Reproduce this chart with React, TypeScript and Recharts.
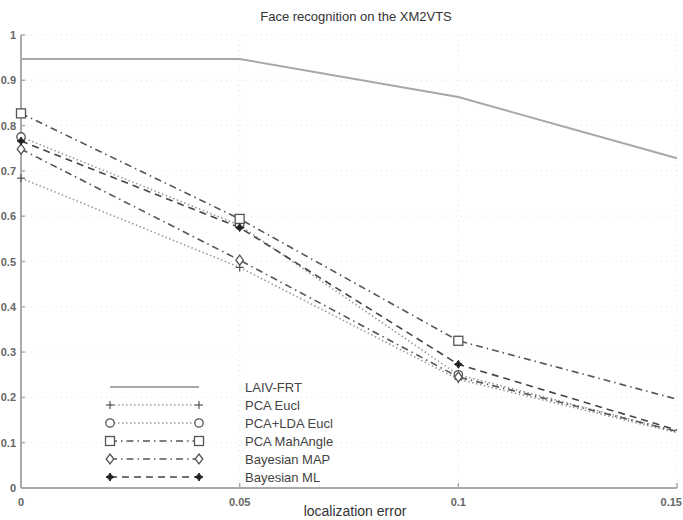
import { LineChart, Line, XAxis, YAxis, CartesianGrid } from "recharts";

// localization error
const errors = [0, 0.05, 0.1, 0.15];

// recognition rate per method
const laivFrt = [0.947, 0.947, 0.863, 0.728];
const pcaEucl = [0.684, 0.487, 0.24, 0.122];
const pcaLdaEucl = [0.775, 0.58, 0.25, 0.125];
const pcaMahAngle = [0.827, 0.594, 0.325, 0.196];
const bayesMap = [0.748, 0.503, 0.245, 0.125];
const bayesMl = [0.766, 0.575, 0.273, 0.128];

const xTicks = [0, 0.05, 0.1, 0.15];
const yTicks = [0, 0.1, 0.2, 0.3, 0.4, 0.5, 0.6, 0.7, 0.8, 0.9, 1];

const data = errors.map((e, i) => ({
  e,
  laiv: laivFrt[i],
  pcaE: pcaEucl[i],
  pcaL: pcaLdaEucl[i],
  pcaM: pcaMahAngle[i],
  bMap: bayesMap[i],
  bMl: bayesMl[i],
}));

type Mk = "none" | "plus" | "circle" | "square" | "diamond" | "star";

const series: { key: string; name: string; color: string; width: number; dash?: string; marker: Mk }[] = [
  { key: "laiv", name: "LAIV-FRT", color: "#a8a8a8", width: 2, marker: "none" },
  { key: "pcaE", name: "PCA Eucl", color: "#9a9a9a", width: 1.6, dash: "1.5 2.5", marker: "plus" },
  { key: "pcaL", name: "PCA+LDA Eucl", color: "#9a9a9a", width: 1.6, dash: "1.5 2.5", marker: "circle" },
  { key: "pcaM", name: "PCA MahAngle", color: "#555", width: 1.6, dash: "7 4 1.5 4", marker: "square" },
  { key: "bMap", name: "Bayesian MAP", color: "#555", width: 1.6, dash: "7 4 1.5 4", marker: "diamond" },
  { key: "bMl", name: "Bayesian ML", color: "#444", width: 1.6, dash: "7 5", marker: "star" },
];

function Marker({ cx, cy, type }: { cx: number; cy: number; type: Mk }) {
  const s = "#555";
  if (type === "plus")
    return (
      <g stroke={s} strokeWidth={1.2}>
        <line x1={cx - 4} y1={cy} x2={cx + 4} y2={cy} />
        <line x1={cx} y1={cy - 4} x2={cx} y2={cy + 4} />
      </g>
    );
  if (type === "circle") return <circle cx={cx} cy={cy} r={4.2} fill="#fff" stroke={s} strokeWidth={1.3} />;
  if (type === "square")
    return <rect x={cx - 4.5} y={cy - 4.5} width={9} height={9} fill="#fff" stroke={s} strokeWidth={1.3} />;
  if (type === "diamond")
    return (
      <polygon
        points={`${cx},${cy - 5} ${cx + 3.8},${cy} ${cx},${cy + 5} ${cx - 3.8},${cy}`}
        fill="#fff"
        stroke={s}
        strokeWidth={1.3}
      />
    );
  if (type === "star")
    return (
      <polygon
        points={`${cx},${cy - 4} ${cx + 1.5},${cy - 1.5} ${cx + 4},${cy} ${cx + 1.5},${cy + 1.5} ${cx},${cy + 4} ${cx - 1.5},${cy + 1.5} ${cx - 4},${cy} ${cx - 1.5},${cy - 1.5}`}
        fill="#222"
        stroke="#222"
        strokeWidth={1}
      />
    );
  return null;
}

const tickText = { fill: "#666", fontSize: 11, fontWeight: 700, fontFamily: "Liberation Sans, Arial, sans-serif" };

function YTick(props: any) {
  const { x, y, payload } = props;
  return (
    <g>
      <line x1={x + 4} y1={y} x2={x + 8} y2={y} stroke="#aaa" strokeWidth={1.5} />
      <text x={x - 1} y={y} textAnchor="end" dominantBaseline="central" {...tickText}>
        {payload.value}
      </text>
    </g>
  );
}

function XTick(props: any) {
  const { x, y, payload, index } = props;
  const last = index === xTicks.length - 1;
  return (
    <g>
      <line x1={x} y1={y - 10} x2={x} y2={y - 15} stroke="#aaa" strokeWidth={1.5} />
      <text
        x={last ? x + 5 : x}
        y={y}
        textAnchor={last ? "end" : "middle"}
        dominantBaseline="hanging"
        {...tickText}
      >
        {payload.value}
      </text>
    </g>
  );
}

function LegendBox() {
  return (
    <svg width={250} height={108} style={{ display: "block" }}>
      {series.map((s, i) => {
        const y = 9 + i * 18;
        return (
          <g key={s.key}>
            <line x1={6} y1={y} x2={95} y2={y} stroke={s.color} strokeWidth={s.width} strokeDasharray={s.dash} />
            <Marker cx={6} cy={y} type={s.marker} />
            <Marker cx={95} cy={y} type={s.marker} />
            <text
              x={141}
              y={y}
              dominantBaseline="central"
              fill="#444"
              fontSize={13}
              fontFamily="Liberation Sans, Arial, sans-serif"
            >
              {s.name}
            </text>
          </g>
        );
      })}
    </svg>
  );
}

export default function App() {
  return (
    <div
      style={{
        position: "absolute",
        left: 0,
        top: 0,
        width: 683,
        height: 520,
        background: "#fff",
        fontFamily: "Liberation Sans, Arial, sans-serif",
      }}
    >
      <LineChart width={683} height={520} data={data} margin={{ top: 35, right: 6, bottom: 0, left: 0 }}>
        <CartesianGrid stroke="#e4e4e4" strokeDasharray="1 4" />
        <XAxis
          dataKey="e"
          type="number"
          domain={[0, 0.15]}
          ticks={xTicks}
          height={32}
          tickSize={0}
          tickMargin={10}
          stroke="#aaa"
          strokeWidth={2}
          tick={<XTick />}
          interval={0}
        />
        <YAxis
          type="number"
          domain={[0, 1]}
          ticks={yTicks}
          width={21}
          tickSize={0}
          tickMargin={4}
          stroke="#aaa"
          strokeWidth={2}
          tick={<YTick />}
          interval={0}
        />
        {series.map((s) => (
          <Line
            key={s.key}
            dataKey={s.key}
            name={s.name}
            type="linear"
            stroke={s.color}
            strokeWidth={s.width}
            strokeDasharray={s.dash}
            isAnimationActive={false}
            dot={(p: any) =>
              p.index < errors.length - 1 ? (
                <Marker key={`${s.key}-${p.index}`} cx={p.cx} cy={p.cy} type={s.marker} />
              ) : (
                <g key={`${s.key}-${p.index}`} />
              )
            }
            activeDot={false}
          />
        ))}
      </LineChart>
      <div style={{ position: "absolute", left: 104, top: 378 }}>
        <LegendBox />
      </div>
      <div style={{ position: "absolute", left: 0, width: 712, top: 9, textAlign: "center", fontSize: 13, color: "#333" }}>
        Face recognition on the XM2VTS
      </div>
      <div style={{ position: "absolute", left: 0, width: 710, top: 503, textAlign: "center", fontSize: 14, color: "#333" }}>
        localization error
      </div>
    </div>
  );
}
